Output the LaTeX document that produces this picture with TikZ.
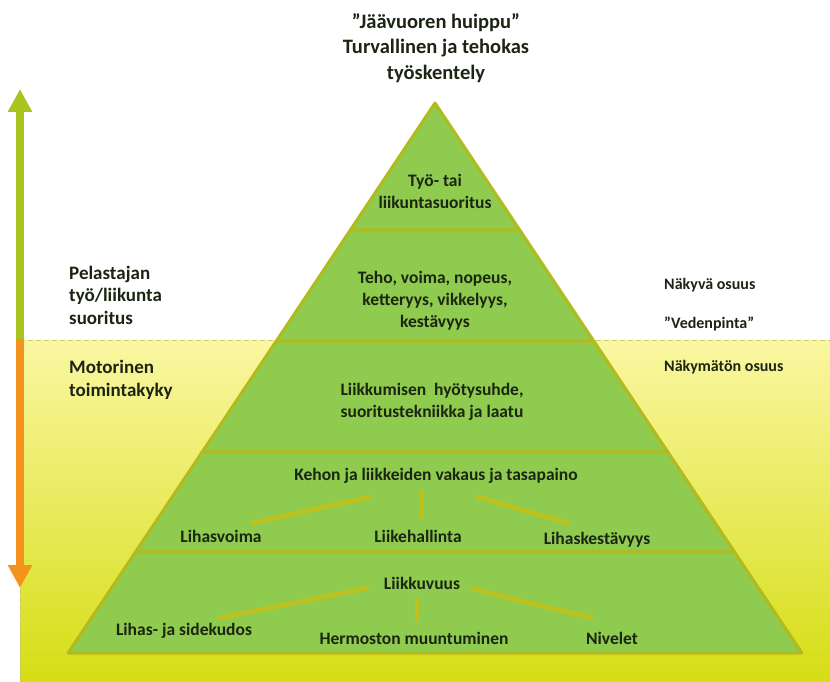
\documentclass[tikz,border=0pt]{standalone}
\usepackage{fontspec}
\setmainfont{Carlito}
\usetikzlibrary{arrows.meta}
\definecolor{lgreen}{HTML}{8ECB4E}
\definecolor{olive}{HTML}{B2BA1C}
\definecolor{connc}{HTML}{BDC21E}
\definecolor{watertop}{HTML}{FAF7A2}
\definecolor{waterbot}{HTML}{D6DD14}
\definecolor{arrgreen}{HTML}{A9C41E}
\definecolor{arrorange}{HTML}{F5921E}
\definecolor{dashc}{HTML}{C9CB6A}
\definecolor{txt}{HTML}{1C2412}
\begin{document}
\begin{tikzpicture}[x=1pt,y=-1pt,
  layer/.style={fill=lgreen,draw=olive,line width=3pt,line join=round},
  lbl/.style={text=txt,font=\bfseries\fontsize{17.5}{22}\selectfont,align=center,inner sep=0pt},
  ttl/.style={text=txt,font=\bfseries\fontsize{20.5}{25.5}\selectfont,align=center,inner sep=0pt},
  lside/.style={text=txt,font=\bfseries\fontsize{19}{22.5}\selectfont,align=left,inner sep=0pt,anchor=west},
  rside/.style={text=txt,font=\bfseries\fontsize{16}{20}\selectfont,align=left,inner sep=0pt,anchor=west},
  conn/.style={draw=connc,line width=4.5pt,line cap=round},
  wline/.style={draw=dashc,line width=1pt,dash pattern=on 5pt off 3pt}]
\useasboundingbox (0,0) rectangle (830,682);
% water
\fill[top color=watertop,bottom color=waterbot] (20,340) rectangle (830,682);
\draw[wline] (20,340) -- (830,340);
\draw[wline] (20,590) -- (20,682);
% left arrow
\draw[arrgreen,line width=8pt,-{Triangle[width=23pt,length=23pt]}] (20,341) -- (20,89);
\draw[arrorange,line width=8pt,-{Triangle[width=23pt,length=23pt]}] (20,339) -- (20,588);
% pyramid layers
\draw[layer] (435,103) -- (519.7,230) -- (350.3,230) -- cycle;
\draw[layer] (350.3,230) -- (519.7,230) -- (593.7,341) -- (276.3,341) -- cycle;
\draw[layer] (276.3,341) -- (593.7,341) -- (667.8,452) -- (202.2,452) -- cycle;
\draw[layer] (202.2,452) -- (667.8,452) -- (734.5,552) -- (135.5,552) -- cycle;
\draw[layer] (135.5,552) -- (734.5,552) -- (801.9,653) -- (68.1,653) -- cycle;
% title
\node[ttl] (title) at (436,48) {”Jäävuoren huippu”\\Turvallinen ja tehokas\\työskentely};
% level texts
\node[lbl] (l1) at (435,191) {Työ- tai\\liikuntasuoritus};
\node[lbl] (l2) at (435,301) {Teho, voima, nopeus,\\ketteryys, vikkelyys,\\kestävyys};
\node[lbl] (l3) at (432,402) {Liikkumisen\ \ hyötysuhde,\\suoritustekniikka ja laatu};
\node[lbl] (l4) at (436,476) {Kehon ja liikkeiden vakaus ja tasapaino};
\node[lbl] (l4a) at (221,536) {Lihasvoima};
\node[lbl] (l4b) at (418,536) {Liikehallinta};
\node[lbl] (l4c) at (597,540) {Lihaskestävyys};
\node[lbl] (l5) at (422,583) {Liikkuvuus};
\node[lbl] (l5a) at (184,631) {Lihas- ja sidekudos};
\node[lbl] (l5b) at (414,638) {Hermoston muuntuminen};
\node[lbl] (l5c) at (612,638) {Nivelet};
% side texts
\node[lside] (pel) at (69,295) {Pelastajan\\työ/liikunta\\suoritus};
\node[lside] (mot) at (69,380) {Motorinen\\toimintakyky};
\node[rside] (nak) at (664,285) {Näkyvä osuus};
\node[rside] (ved) at (664,324) {”Vedenpinta”};
\node[rside] (nakm) at (664,367) {Näkymätön osuus};
% connectors
\coordinate (a1) at (370,497); \coordinate (a2) at (252,523);
\coordinate (b1) at (422,492); \coordinate (b2) at (422,517);
\coordinate (c1) at (478,497); \coordinate (c2) at (568,523);
\draw[conn] (a1) -- (a2);
\draw[conn] (b1) -- (b2);
\draw[conn] (c1) -- (c2);
\coordinate (d1) at (367,588); \coordinate (d2) at (220,618);
\coordinate (e1) at (417,599); \coordinate (e2) at (417,620);
\coordinate (f1) at (473,589); \coordinate (f2) at (592,618);
\draw[conn] (d1) -- (d2);
\draw[conn] (e1) -- (e2);
\draw[conn] (f1) -- (f2);
\end{tikzpicture}
\end{document}
